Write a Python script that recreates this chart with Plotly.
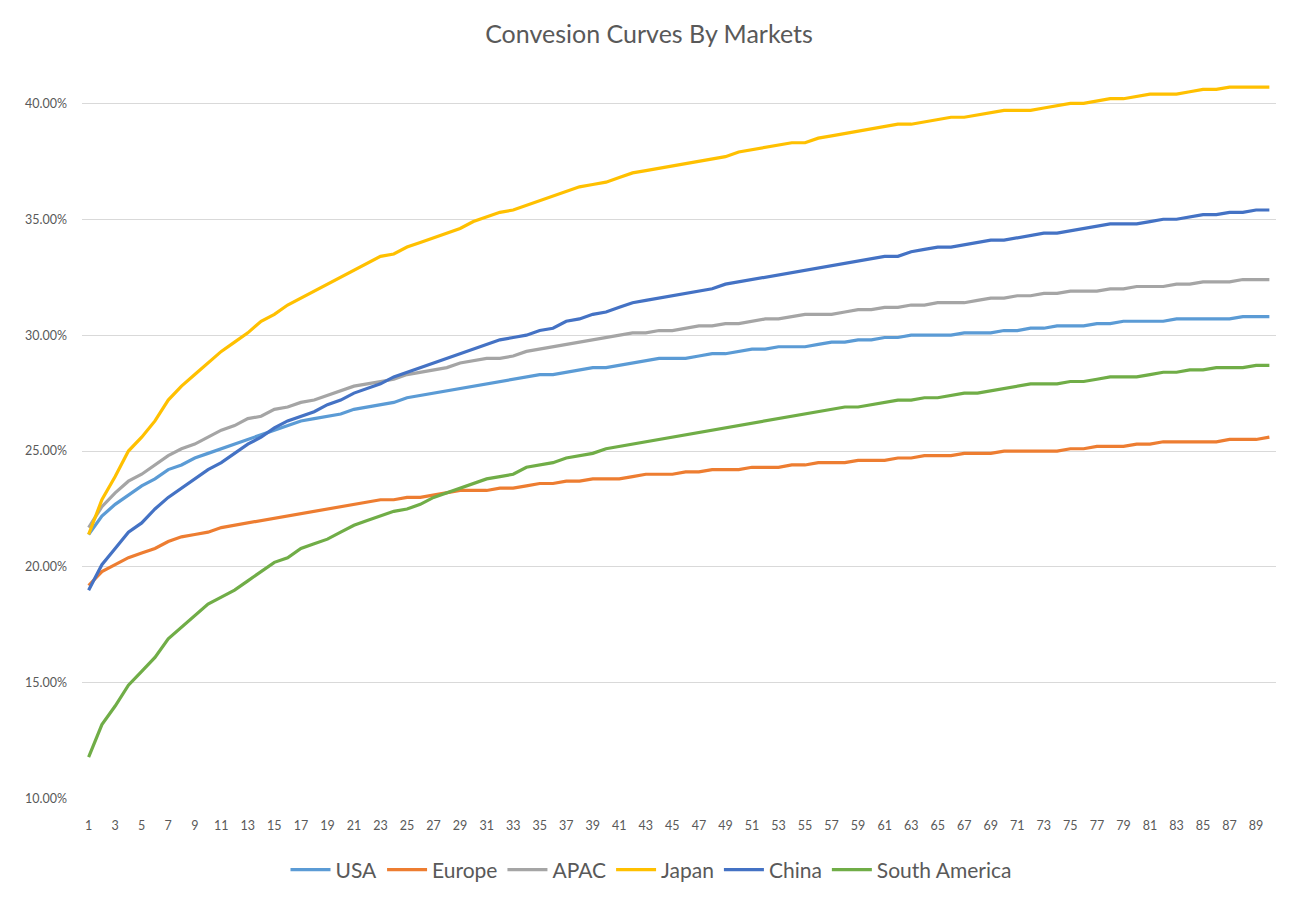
import plotly.graph_objects as go

days = list(range(1, 91))
x_tick_labels = list(range(1, 90, 2))

usa = [21.4, 22.2, 22.7, 23.1, 23.5, 23.8, 24.2, 24.4, 24.7, 24.9,
       25.1, 25.3, 25.5, 25.7, 25.9, 26.1, 26.3, 26.4, 26.5, 26.6,
       26.8, 26.9, 27.0, 27.1, 27.3, 27.4, 27.5, 27.6, 27.7, 27.8,
       27.9, 28.0, 28.1, 28.2, 28.3, 28.3, 28.4, 28.5, 28.6, 28.6,
       28.7, 28.8, 28.9, 29.0, 29.0, 29.0, 29.1, 29.2, 29.2, 29.3,
       29.4, 29.4, 29.5, 29.5, 29.5, 29.6, 29.7, 29.7, 29.8, 29.8,
       29.9, 29.9, 30.0, 30.0, 30.0, 30.0, 30.1, 30.1, 30.1, 30.2,
       30.2, 30.3, 30.3, 30.4, 30.4, 30.4, 30.5, 30.5, 30.6, 30.6,
       30.6, 30.6, 30.7, 30.7, 30.7, 30.7, 30.7, 30.8, 30.8, 30.8]

europe = [19.2, 19.8, 20.1, 20.4, 20.6, 20.8, 21.1, 21.3, 21.4, 21.5,
          21.7, 21.8, 21.9, 22.0, 22.1, 22.2, 22.3, 22.4, 22.5, 22.6,
          22.7, 22.8, 22.9, 22.9, 23.0, 23.0, 23.1, 23.2, 23.3, 23.3,
          23.3, 23.4, 23.4, 23.5, 23.6, 23.6, 23.7, 23.7, 23.8, 23.8,
          23.8, 23.9, 24.0, 24.0, 24.0, 24.1, 24.1, 24.2, 24.2, 24.2,
          24.3, 24.3, 24.3, 24.4, 24.4, 24.5, 24.5, 24.5, 24.6, 24.6,
          24.6, 24.7, 24.7, 24.8, 24.8, 24.8, 24.9, 24.9, 24.9, 25.0,
          25.0, 25.0, 25.0, 25.0, 25.1, 25.1, 25.2, 25.2, 25.2, 25.3,
          25.3, 25.4, 25.4, 25.4, 25.4, 25.4, 25.5, 25.5, 25.5, 25.6]

apac = [21.7, 22.6, 23.2, 23.7, 24.0, 24.4, 24.8, 25.1, 25.3, 25.6,
        25.9, 26.1, 26.4, 26.5, 26.8, 26.9, 27.1, 27.2, 27.4, 27.6,
        27.8, 27.9, 28.0, 28.1, 28.3, 28.4, 28.5, 28.6, 28.8, 28.9,
        29.0, 29.0, 29.1, 29.3, 29.4, 29.5, 29.6, 29.7, 29.8, 29.9,
        30.0, 30.1, 30.1, 30.2, 30.2, 30.3, 30.4, 30.4, 30.5, 30.5,
        30.6, 30.7, 30.7, 30.8, 30.9, 30.9, 30.9, 31.0, 31.1, 31.1,
        31.2, 31.2, 31.3, 31.3, 31.4, 31.4, 31.4, 31.5, 31.6, 31.6,
        31.7, 31.7, 31.8, 31.8, 31.9, 31.9, 31.9, 32.0, 32.0, 32.1,
        32.1, 32.1, 32.2, 32.2, 32.3, 32.3, 32.3, 32.4, 32.4, 32.4]

japan = [21.4, 22.9, 23.9, 25.0, 25.6, 26.3, 27.2, 27.8, 28.3, 28.8,
         29.3, 29.7, 30.1, 30.6, 30.9, 31.3, 31.6, 31.9, 32.2, 32.5,
         32.8, 33.1, 33.4, 33.5, 33.8, 34.0, 34.2, 34.4, 34.6, 34.9,
         35.1, 35.3, 35.4, 35.6, 35.8, 36.0, 36.2, 36.4, 36.5, 36.6,
         36.8, 37.0, 37.1, 37.2, 37.3, 37.4, 37.5, 37.6, 37.7, 37.9,
         38.0, 38.1, 38.2, 38.3, 38.3, 38.5, 38.6, 38.7, 38.8, 38.9,
         39.0, 39.1, 39.1, 39.2, 39.3, 39.4, 39.4, 39.5, 39.6, 39.7,
         39.7, 39.7, 39.8, 39.9, 40.0, 40.0, 40.1, 40.2, 40.2, 40.3,
         40.4, 40.4, 40.4, 40.5, 40.6, 40.6, 40.7, 40.7, 40.7, 40.7]

china = [19.0, 20.1, 20.8, 21.5, 21.9, 22.5, 23.0, 23.4, 23.8, 24.2,
         24.5, 24.9, 25.3, 25.6, 26.0, 26.3, 26.5, 26.7, 27.0, 27.2,
         27.5, 27.7, 27.9, 28.2, 28.4, 28.6, 28.8, 29.0, 29.2, 29.4,
         29.6, 29.8, 29.9, 30.0, 30.2, 30.3, 30.6, 30.7, 30.9, 31.0,
         31.2, 31.4, 31.5, 31.6, 31.7, 31.8, 31.9, 32.0, 32.2, 32.3,
         32.4, 32.5, 32.6, 32.7, 32.8, 32.9, 33.0, 33.1, 33.2, 33.3,
         33.4, 33.4, 33.6, 33.7, 33.8, 33.8, 33.9, 34.0, 34.1, 34.1,
         34.2, 34.3, 34.4, 34.4, 34.5, 34.6, 34.7, 34.8, 34.8, 34.8,
         34.9, 35.0, 35.0, 35.1, 35.2, 35.2, 35.3, 35.3, 35.4, 35.4]

south_america = [11.8, 13.2, 14.0, 14.9, 15.5, 16.1, 16.9, 17.4, 17.9, 18.4,
                 18.7, 19.0, 19.4, 19.8, 20.2, 20.4, 20.8, 21.0, 21.2, 21.5,
                 21.8, 22.0, 22.2, 22.4, 22.5, 22.7, 23.0, 23.2, 23.4, 23.6,
                 23.8, 23.9, 24.0, 24.3, 24.4, 24.5, 24.7, 24.8, 24.9, 25.1,
                 25.2, 25.3, 25.4, 25.5, 25.6, 25.7, 25.8, 25.9, 26.0, 26.1,
                 26.2, 26.3, 26.4, 26.5, 26.6, 26.7, 26.8, 26.9, 26.9, 27.0,
                 27.1, 27.2, 27.2, 27.3, 27.3, 27.4, 27.5, 27.5, 27.6, 27.7,
                 27.8, 27.9, 27.9, 27.9, 28.0, 28.0, 28.1, 28.2, 28.2, 28.2,
                 28.3, 28.4, 28.4, 28.5, 28.5, 28.6, 28.6, 28.6, 28.7, 28.7]

series_names = ["USA", "Europe", "APAC", "Japan", "China", "South America"]
series_values = [usa, europe, apac, japan, china, south_america]
series_colors = ["#5B9BD5", "#ED7D31", "#A5A5A5", "#FFC000", "#4472C4", "#70AD47"]

for s in series_values:
    assert len(s) == len(days)

FONT = "Lato, 'Open Sans', sans-serif"
TEXT_COLOR = "#595959"
W, H = 1296, 906
OFF = 8  # page body margin offset

fig = go.Figure()
for name, vals, col in zip(series_names, series_values, series_colors):
    fig.add_trace(go.Scatter(
        x=days, y=[v / 100 for v in vals], name=name, mode="lines",
        line=dict(color=col, width=3.2),
    ))

fig.update_layout(
    width=W, height=H,
    paper_bgcolor="white", plot_bgcolor="white",
    margin=dict(l=82 - OFF, r=20 + OFF, t=57 - OFF, b=107 + OFF, autoexpand=False),
    title=dict(text="Convesion Curves By Markets", x=(649 - OFF) / W, xref="container",
               xanchor="center", y=1 - (34 - OFF) / H, yref="container", yanchor="middle",
               font=dict(family=FONT, size=25, color=TEXT_COLOR)),
    legend=dict(orientation="h", x=(651 - OFF) / W, xref="container", xanchor="center",
                y=1 - (870 - OFF) / H, yref="container", yanchor="middle",
                font=dict(family=FONT, size=21, color=TEXT_COLOR),
                itemwidth=40, tracegroupgap=0),
    showlegend=True,
)
fig.update_xaxes(
    range=[0.5, 90.5], tickmode="array", tickvals=x_tick_labels,
    ticktext=[str(t) for t in x_tick_labels],
    showgrid=False, zeroline=False, showline=False, ticks="",
    tickfont=dict(family=FONT, size=12.5, color=TEXT_COLOR),
    ticklabelstandoff=17,
)
fig.update_yaxes(
    range=[0.0999, 0.42], dtick=0.05, tick0=0.10, tickformat=".2%",
    showgrid=True, gridcolor="#D9D9D9", gridwidth=1.3,
    zeroline=False, showline=False, ticks="",
    tickfont=dict(family=FONT, size=12.5, color=TEXT_COLOR),
    ticklabelstandoff=14,
)

fig.write_html("out.html")
